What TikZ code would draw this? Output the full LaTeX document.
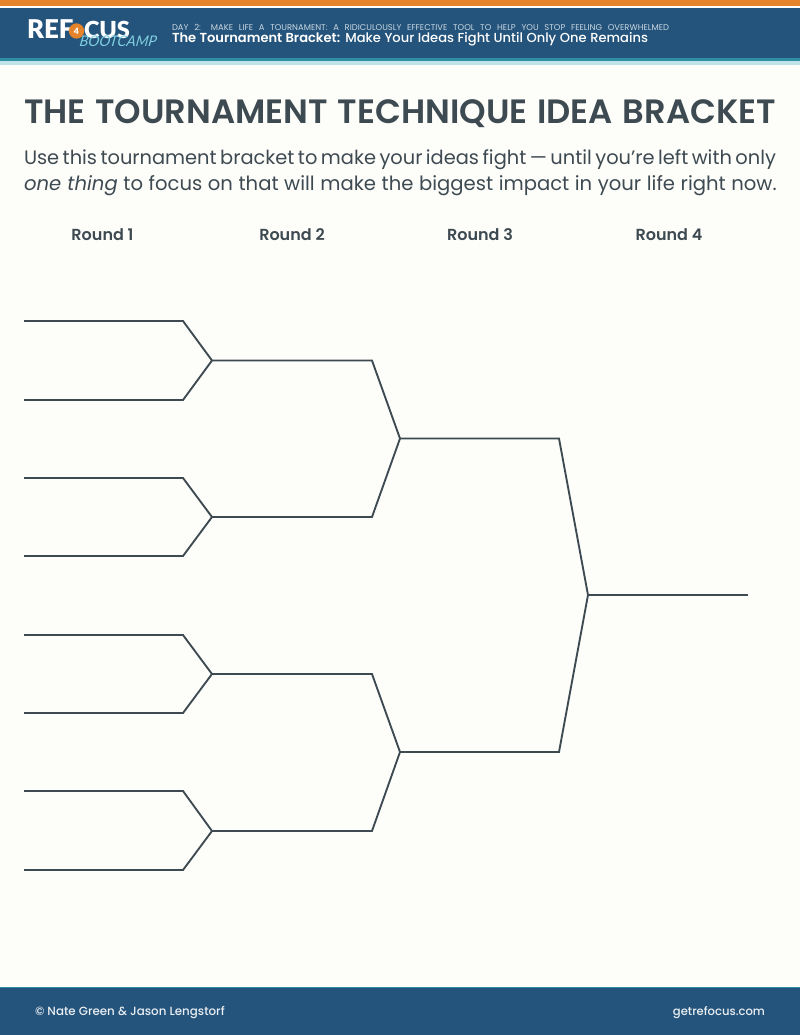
\documentclass[tikz,border=0pt]{standalone}
\usepackage{fontspec}
\setmainfont{Poppins}[BoldFont={Poppins SemiBold},ItalicFont={Poppins Italic},Ligatures=NoCommon]
\newfontfamily\medfont{Poppins Medium}
\newfontfamily\logofont{Lato Black}
\newfontfamily\bootfont{Lato Italic}
\definecolor{paper}{HTML}{FDFDF9}
\definecolor{navy}{HTML}{24537B}
\definecolor{orangeband}{HTML}{E5832B}
\definecolor{tealband}{HTML}{2F8FA5}
\definecolor{paleteal}{HTML}{BFE3E6}
\definecolor{ink}{HTML}{3E4A52}
\definecolor{subwhite}{HTML}{C9D8E2}
\definecolor{boot}{HTML}{7FCFE0}
\tikzset{
  x=0.75pt,y=-0.75pt,
  bracketline/.style={draw=ink,line width=1.4pt,line join=miter},
  txt/.style={inner sep=0pt,outer sep=0pt,text=ink},
  roundlabel/.style={txt,font=\fontsize{12}{14}\selectfont\bfseries,anchor=center},
  logotext/.style={txt,anchor=base west,font=\logofont\fontsize{17.6}{18}\selectfont},
}
\begin{document}
\begin{tikzpicture}
\useasboundingbox (0,0) rectangle (800,1035);
\fill[paper] (0,0) rectangle (800,1035);
% header
\fill[orangeband] (0,0) rectangle (800,5.5);
\fill[navy] (0,8) rectangle (800,58);
\fill[tealband] (0,58) rectangle (800,61);
\fill[paleteal] (0,61) rectangle (800,65);
\node[logotext,text=white,font=\logofont\fontsize{19.4}{20}\selectfont] (logoa) at (27,38.5) {REF};
\node[circle,fill=orangeband,minimum size=11.5pt,inner sep=0pt] (logoo) at (76.5,31) {};
\node[txt,text=white,font=\logofont\fontsize{6.5}{8}\selectfont] (logob) at (logoo) {4};
\node[logotext,text=white] (logoc) at (84,38.5) {CUS};
\node[txt,text=boot,anchor=base west,font=\bootfont\fontsize{11}{14}\selectfont,xslant=0.15] (logod) at (79,46.5) {BOOTCAMP};
\node[txt,text=subwhite,anchor=base west,font=\fontsize{6.3}{8}\selectfont] (kicker) at (172,30) {\makebox[372.75pt][s]{DAY 2: MAKE LIFE A TOURNAMENT: A RIDICULOUSLY EFFECTIVE TOOL TO HELP YOU STOP FEELING OVERWHELMED}};
\node[txt,text=white,anchor=base west,font=\fontsize{9.8}{12}\selectfont] (headline) at (172,42.5) {\makebox[357pt][s]{\textbf{The Tournament Bracket:} {\medfont Make Your Ideas Fight Until Only One Remains}}};
% title
\node[txt,anchor=base west,font=\fontsize{25.3}{28}\selectfont\bfseries] (title) at (24,123) {\makebox[564pt][s]{THE TOURNAMENT TECHNIQUE IDEA BRACKET}};
\node[txt,anchor=base west,font=\fontsize{14.55}{18}\selectfont] (introa) at (24,164.5) {\makebox[564pt][s]{Use this tournament bracket to make your ideas fight — until you’re left with only}};
\node[txt,anchor=base west,font=\fontsize{14.7}{18}\selectfont] (introb) at (24,190.5) {\makebox[564.5pt][s]{\textit{one thing} to focus on that will make the biggest impact in your life right now.}};
% rounds
\node[roundlabel] (r1) at (102.5,234.5) {Round 1};
\node[roundlabel] (r2) at (292,234.5) {Round 2};
\node[roundlabel] (r3) at (480,234.5) {Round 3};
\node[roundlabel] (r4) at (669,234.5) {Round 4};
% bracket coordinates
\foreach \n/\y in {a/321,b/400,c/478,d/556,e/635,f/713,g/791,h/870}{
  \coordinate (s\n) at (24,\y);
  \coordinate (t\n) at (183,\y);
}
\foreach \n/\y in {a/360.5,b/517,c/674,d/831}{
  \coordinate (j\n) at (212,\y);
  \coordinate (k\n) at (372,\y);
}
\foreach \n/\y in {a/438.5,b/752}{
  \coordinate (m\n) at (400,\y);
  \coordinate (n\n) at (559,\y);
}
\coordinate (champ) at (588,595);
\coordinate (champend) at (748,595);
% round 1 + joins
\draw[bracketline] (sa)--(ta)--(ja)--(tb)--(sb);
\draw[bracketline] (sc)--(tc)--(jb)--(td)--(sd);
\draw[bracketline] (se)--(te)--(jc)--(tf)--(sf);
\draw[bracketline] (sg)--(tg)--(jd)--(th)--(sh);
% round 2
\draw[bracketline] (ja)--(ka)--(ma)--(kb)--(jb);
\draw[bracketline] (jc)--(kc)--(mb)--(kd)--(jd);
% round 3
\draw[bracketline] (ma)--(na)--(champ)--(nb)--(mb);
% final
\draw[bracketline] (champ)--(champend);
% footer
\fill[tealband] (0,986.5) rectangle (800,988);
\fill[navy] (0,988) rectangle (800,1035);
\node[txt,text=white!90!navy,anchor=base west,font=\medfont\fontsize{8.9}{10}\selectfont] (copy) at (35,1015) {© Nate Green \& Jason Lengstorf};
\node[txt,text=white!90!navy,anchor=base east,font=\medfont\fontsize{8.7}{10}\selectfont] (site) at (765,1015) {getrefocus.com};
\end{tikzpicture}
\end{document}
